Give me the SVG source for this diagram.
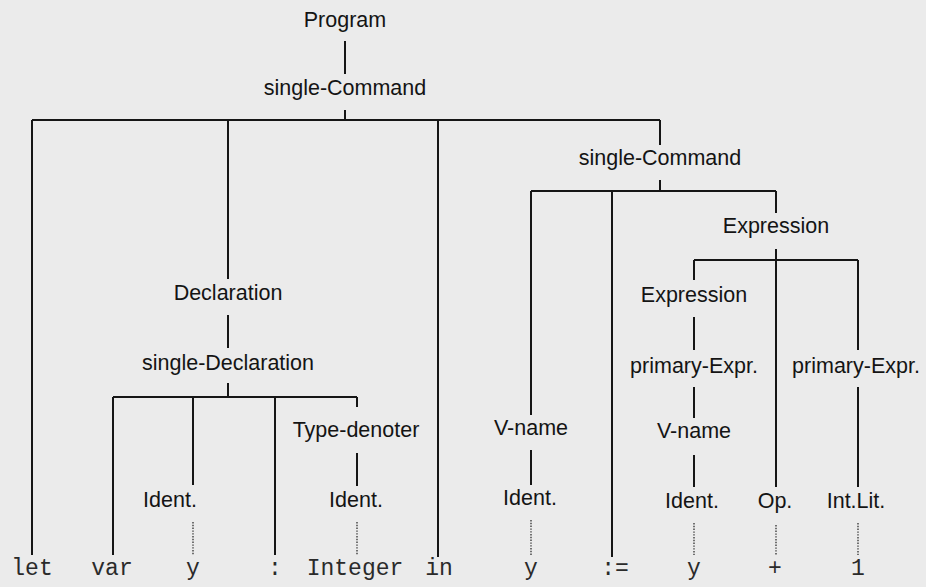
<svg xmlns="http://www.w3.org/2000/svg" width="926" height="587" viewBox="0 0 926 587">
<style>
.bg{fill:#ebebeb}
.n{font-family:"Liberation Sans",Arial,sans-serif;font-size:21.5px;fill:#141414;text-anchor:middle}
.t{font-family:"Liberation Mono","Courier New",monospace;font-size:23px;fill:#2a2a2a;text-anchor:middle}
.e{fill:none;stroke:#151515;stroke-width:2}
.d{fill:none;stroke:#3c3c3c;stroke-width:1.4;stroke-dasharray:1.4 1.4}
</style>
<rect class="bg" x="0" y="0" width="926" height="587"/>
<g id="connectors">
<path class="e" d="M345 41V74"/>
<path class="e" d="M345 110V120M32 120H660"/>
<path class="e" d="M32 120V555"/>
<path class="e" d="M228 120V279"/>
<path class="e" d="M438 120V557"/>
<path class="e" d="M660 120V145"/>
<path class="e" d="M228 315V348"/>
<path class="e" d="M228 383V397M113 397H357"/>
<path class="e" d="M113 397V555"/>
<path class="e" d="M193 397V485"/>
<path class="e" d="M275 397V555"/>
<path class="e" d="M357 397V407"/>
<path class="e" d="M357 453V486"/>
<path class="e" d="M660 180V191M531 191H776"/>
<path class="e" d="M531 191V415"/>
<path class="e" d="M612 191V557"/>
<path class="e" d="M776 191V213"/>
<path class="e" d="M531 450V485"/>
<path class="e" d="M776 249V260M694 260H858"/>
<path class="e" d="M694 260V280"/>
<path class="e" d="M776 260V487"/>
<path class="e" d="M858 260V350"/>
<path class="e" d="M694 317V350"/>
<path class="e" d="M694 387V418"/>
<path class="e" d="M694 455V487"/>
<path class="e" d="M858 387V487"/>
<path class="d" d="M193 522V555"/>
<path class="d" d="M357 522V555"/>
<path class="d" d="M531 520V555"/>
<path class="d" d="M694 523V555"/>
<path class="d" d="M776 525V555"/>
<path class="d" d="M858 523V555"/>
</g>
<g id="program"><text class="n" x="345" y="27">Program</text></g>
<g id="single-command-1"><text class="n" x="345" y="95">single-Command</text></g>
<g id="single-command-2"><text class="n" x="660" y="165">single-Command</text></g>
<g id="declaration"><text class="n" x="228" y="300">Declaration</text></g>
<g id="single-declaration"><text class="n" x="228" y="370">single-Declaration</text></g>
<g id="type-denoter"><text class="n" x="356" y="437">Type-denoter</text></g>
<g id="ident-1"><text class="n" x="170" y="507">Ident.</text></g>
<g id="ident-2"><text class="n" x="356" y="507">Ident.</text></g>
<g id="expression-1"><text class="n" x="776" y="233">Expression</text></g>
<g id="expression-2"><text class="n" x="694" y="302">Expression</text></g>
<g id="primary-expr-1"><text class="n" x="694" y="373">primary-Expr.</text></g>
<g id="primary-expr-2"><text class="n" x="856" y="373">primary-Expr.</text></g>
<g id="v-name-1"><text class="n" x="531" y="435">V-name</text></g>
<g id="v-name-2"><text class="n" x="694" y="438">V-name</text></g>
<g id="ident-3"><text class="n" x="530" y="505">Ident.</text></g>
<g id="ident-4"><text class="n" x="692" y="508">Ident.</text></g>
<g id="op"><text class="n" x="775" y="508">Op.</text></g>
<g id="int-lit"><text class="n" x="856" y="508">Int.Lit.</text></g>
<g id="tok-let"><text class="t" x="32" y="575">let</text></g>
<g id="tok-var"><text class="t" x="112" y="575">var</text></g>
<g id="tok-y1"><text class="t" x="193" y="575">y</text></g>
<g id="tok-colon"><text class="t" x="275" y="575">:</text></g>
<g id="tok-integer"><text class="t" x="355" y="575">Integer</text></g>
<g id="tok-in"><text class="t" x="439" y="575">in</text></g>
<g id="tok-y2"><text class="t" x="531" y="575">y</text></g>
<g id="tok-becomes"><text class="t" x="615" y="575">:=</text></g>
<g id="tok-y3"><text class="t" x="694" y="575">y</text></g>
<g id="tok-plus"><text class="t" x="775" y="575">+</text></g>
<g id="tok-1"><text class="t" x="858" y="575">1</text></g>
</svg>
